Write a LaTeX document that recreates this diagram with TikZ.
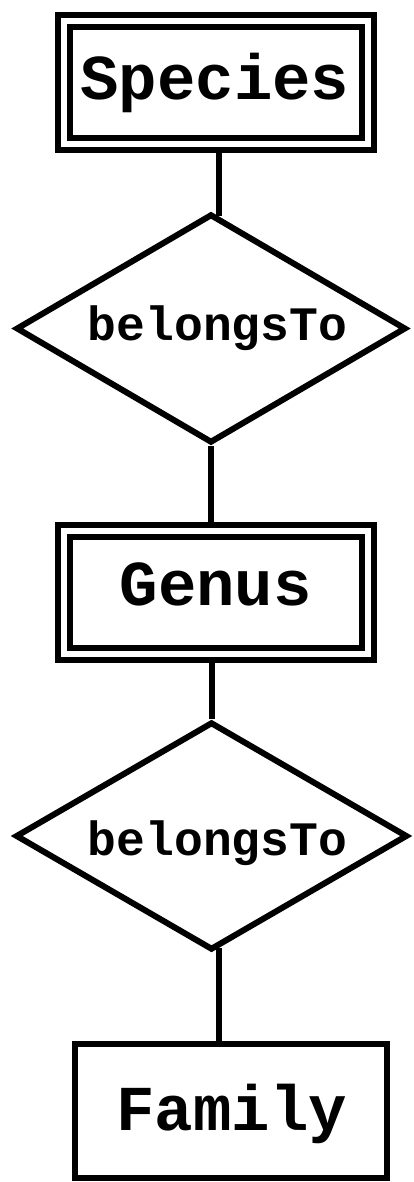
\documentclass[tikz,border=0pt]{standalone}
\usepackage{fontspec}
\setmonofont{Liberation Mono}
\usetikzlibrary{shapes.geometric}
\begin{document}
\begin{tikzpicture}[x=1pt,y=-1pt,
  weakent/.style={draw, line width=6pt, double=white, double distance=6pt,
    minimum width=304pt, minimum height=123pt, inner sep=0pt, outer sep=9pt},
  plainent/.style={draw, line width=6pt, minimum width=312pt,
    minimum height=134.5pt, inner sep=0pt, outer sep=3pt},
  rel/.style={diamond, draw, line width=6pt, inner sep=0pt},
  entlbl/.style={font=\ttfamily\bfseries\fontsize{64}{64}\selectfont, anchor=base, inner sep=0pt},
  rellbl/.style={font=\ttfamily\bfseries\fontsize{48}{48}\selectfont, anchor=base, inner sep=0pt},
  conn/.style={line width=6pt}]
\useasboundingbox (0,0) rectangle (414,1182);
% shapes
\node[weakent] (sp) at (216,82.5) {};
\node[rel, minimum width=390pt, minimum height=229pt] (d1) at (211,328.5) {};
\node[weakent] (ge) at (216,592.5) {};
\node[rel, minimum width=392pt, minimum height=228pt] (d2) at (211.5,836) {};
\node[plainent] (fam) at (231,1110.75) {};
% labels
\node[entlbl] (spT) at (215,100) {Species};
\node[rellbl] (d1T) at (217.5,340) {belongsTo};
\node[entlbl] (geT) at (215.8,605) {Genus};
\node[rellbl] (d2T) at (217.5,855) {belongsTo};
\node[entlbl] (famT) at (231.7,1130) {Family};
% connectors
\draw[conn] (sp.south -| d1.86) -- (d1.86);
\draw[conn] (d1.south) -- (d1.south |- ge.north);
\draw[conn] (d2.north) -- (d2.north |- ge.south);
\draw[conn] (d2.274) -- (d2.274 |- fam.north);
\end{tikzpicture}
\end{document}
